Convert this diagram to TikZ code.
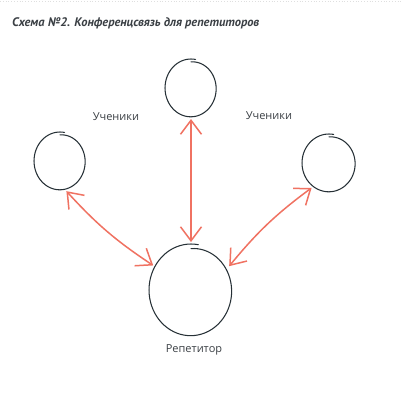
\documentclass[tikz,border=0pt]{standalone}
\usepackage{fontspec}
\setmainfont{Open Sans}
\newfontfamily\titlefont{PT Sans}
\usetikzlibrary{shapes.geometric,arrows.meta}
\definecolor{ink}{HTML}{263036}
\definecolor{salmon}{HTML}{F07262}
\definecolor{txt}{HTML}{3A3F44}
\newcommand\handcircle[4]{%
  \draw[ink, line width=1.05pt, line cap=round] plot[smooth, domain=80:450, samples=75, variable=\t]
    ({#1+#3*(1-0.1*((\t-80)/370)^4)*cos(\t)}, {#2+#4*(1-0.1*((\t-80)/370)^4)*sin(\t)});}
\begin{document}
\begin{tikzpicture}[x=1pt,y=1pt,
  circ/.style={ellipse, draw=none, inner sep=0pt, outer sep=2pt},
  arr/.style={salmon, line width=1.5pt, line cap=round,
    {Straight Barb[length=14pt,width=21pt]}-{Straight Barb[length=14pt,width=21pt]}},
  lbl/.style={text=txt, font=\fontsize{11}{13}\selectfont, inner sep=0pt},
  ttl/.style={text=txt, font=\titlefont\bfseries\itshape\fontsize{12.4}{15}\selectfont, inner sep=0pt, anchor=west}]
\useasboundingbox (0,0) rectangle (402,-402);
\fill[white] (0,0) rectangle (402,-402);
\draw[gray!25, dotted, line width=0.8pt] (0,-1.5) -- (402,-1.5);
\node[ttl] (title) at (12,-23) {Схема №2. Конференцсвязь для репетиторов};
% circles
\node[circ, minimum width=52pt, minimum height=58pt] (top) at (191,-88) {};
\node[circ, minimum width=52pt, minimum height=58pt] (left) at (60,-161) {};
\node[circ, minimum width=54pt, minimum height=58pt] (right) at (329,-163) {};
\node[circ, minimum width=84pt, minimum height=92pt] (rep) at (191,-290) {};
\handcircle{191}{-88}{26}{29}
\handcircle{60}{-161}{26}{29}
\handcircle{329}{-163}{27}{29}
\handcircle{191}{-290}{42}{46}
% labels
\node[lbl] (l1) at (116,-117) {Ученики};
\node[lbl] (l2) at (269,-116) {Ученики};
\node[lbl] (l3) at (194,-350) {Репетитор};
% arrows
\draw[arr] (top.-90) -- (rep.90);
\draw[arr] (left.-78) to[bend right=7] (rep.147);
\draw[arr] (right.-125) to[bend right=7] (rep.32);
\end{tikzpicture}
\end{document}
